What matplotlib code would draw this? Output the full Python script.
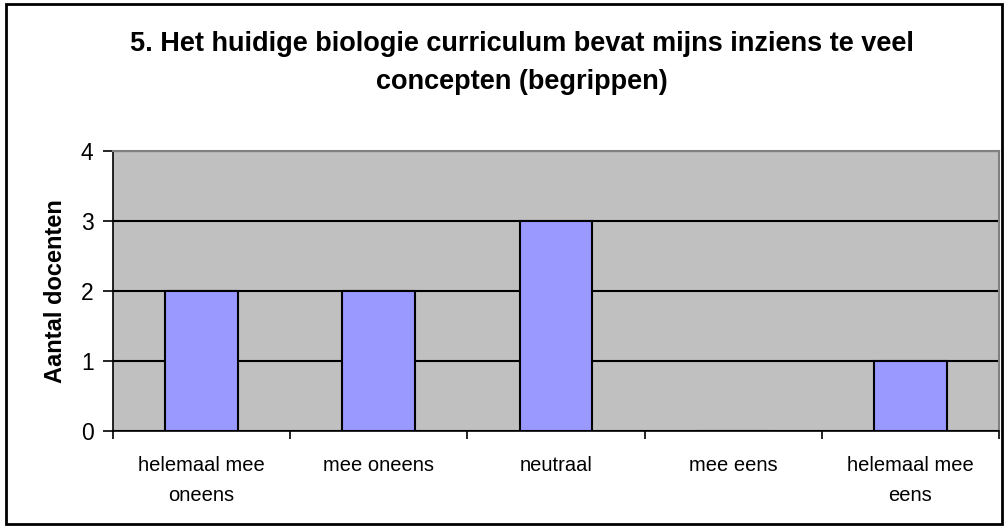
import matplotlib
matplotlib.use('Agg')
import matplotlib.pyplot as plt
from matplotlib.patches import Rectangle
import numpy as np

plt.rcParams['font.family'] = ['Liberation Sans', 'DejaVu Sans']

categories = ['helemaal mee\noneens', 'mee oneens', 'neutraal', 'mee eens', 'helemaal mee\neens']
counts = [2, 2, 3, 0, 1]
title = '5. Het huidige biologie curriculum bevat mijns inziens te veel\nconcepten (begrippen)'
ylabel = 'Aantal docenten'

fig = plt.figure(figsize=(10.05, 5.3), dpi=100)
fig.patch.set_facecolor('white')
fig.patches.append(Rectangle((0.006, 0.012), 0.991, 0.981, transform=fig.transFigure,
	fill=False, edgecolor='black', linewidth=2))

ax = fig.add_axes([0.1124, 0.1868, 0.8816, 0.5283])
ax.set_facecolor('#C0C0C0')

x = np.arange(len(categories))
ax.set_axisbelow(True)
ax.yaxis.grid(True, color='black', linewidth=1.5)
ax.bar(x, counts, width=0.41, color='#9999FF', edgecolor='black', linewidth=1.5, zorder=3)

ax.set_xlim(-0.5, len(categories) - 0.5)
ax.set_ylim(0, 4)
ax.set_yticks([0, 1, 2, 3, 4])
ax.tick_params(axis='y', direction='out', length=7, width=1.2, labelsize=16.5, pad=7)

ax.set_xticks(x)
ax.set_xticklabels(categories, fontsize=14.5, linespacing=1.75)
ax.set_xticks(np.arange(len(categories) + 1) - 0.5, minor=True)
ax.tick_params(axis='x', which='major', length=0, pad=18)
ax.tick_params(axis='x', which='minor', direction='out', length=6, width=1.2)

for side in ['left', 'bottom']:
	ax.spines[side].set_color('black')
	ax.spines[side].set_linewidth(1.2)
for side in ['top', 'right']:
	ax.spines[side].set_color('#808080')
	ax.spines[side].set_linewidth(1.5)

ax.set_ylabel(ylabel, fontsize=17, fontweight='bold', labelpad=10)
fig.text(0.519, 0.881, title, ha='center', va='center', fontsize=19.5, fontweight='bold', linespacing=1.6)

plt.savefig('out.png', dpi=100)
plt.close()
